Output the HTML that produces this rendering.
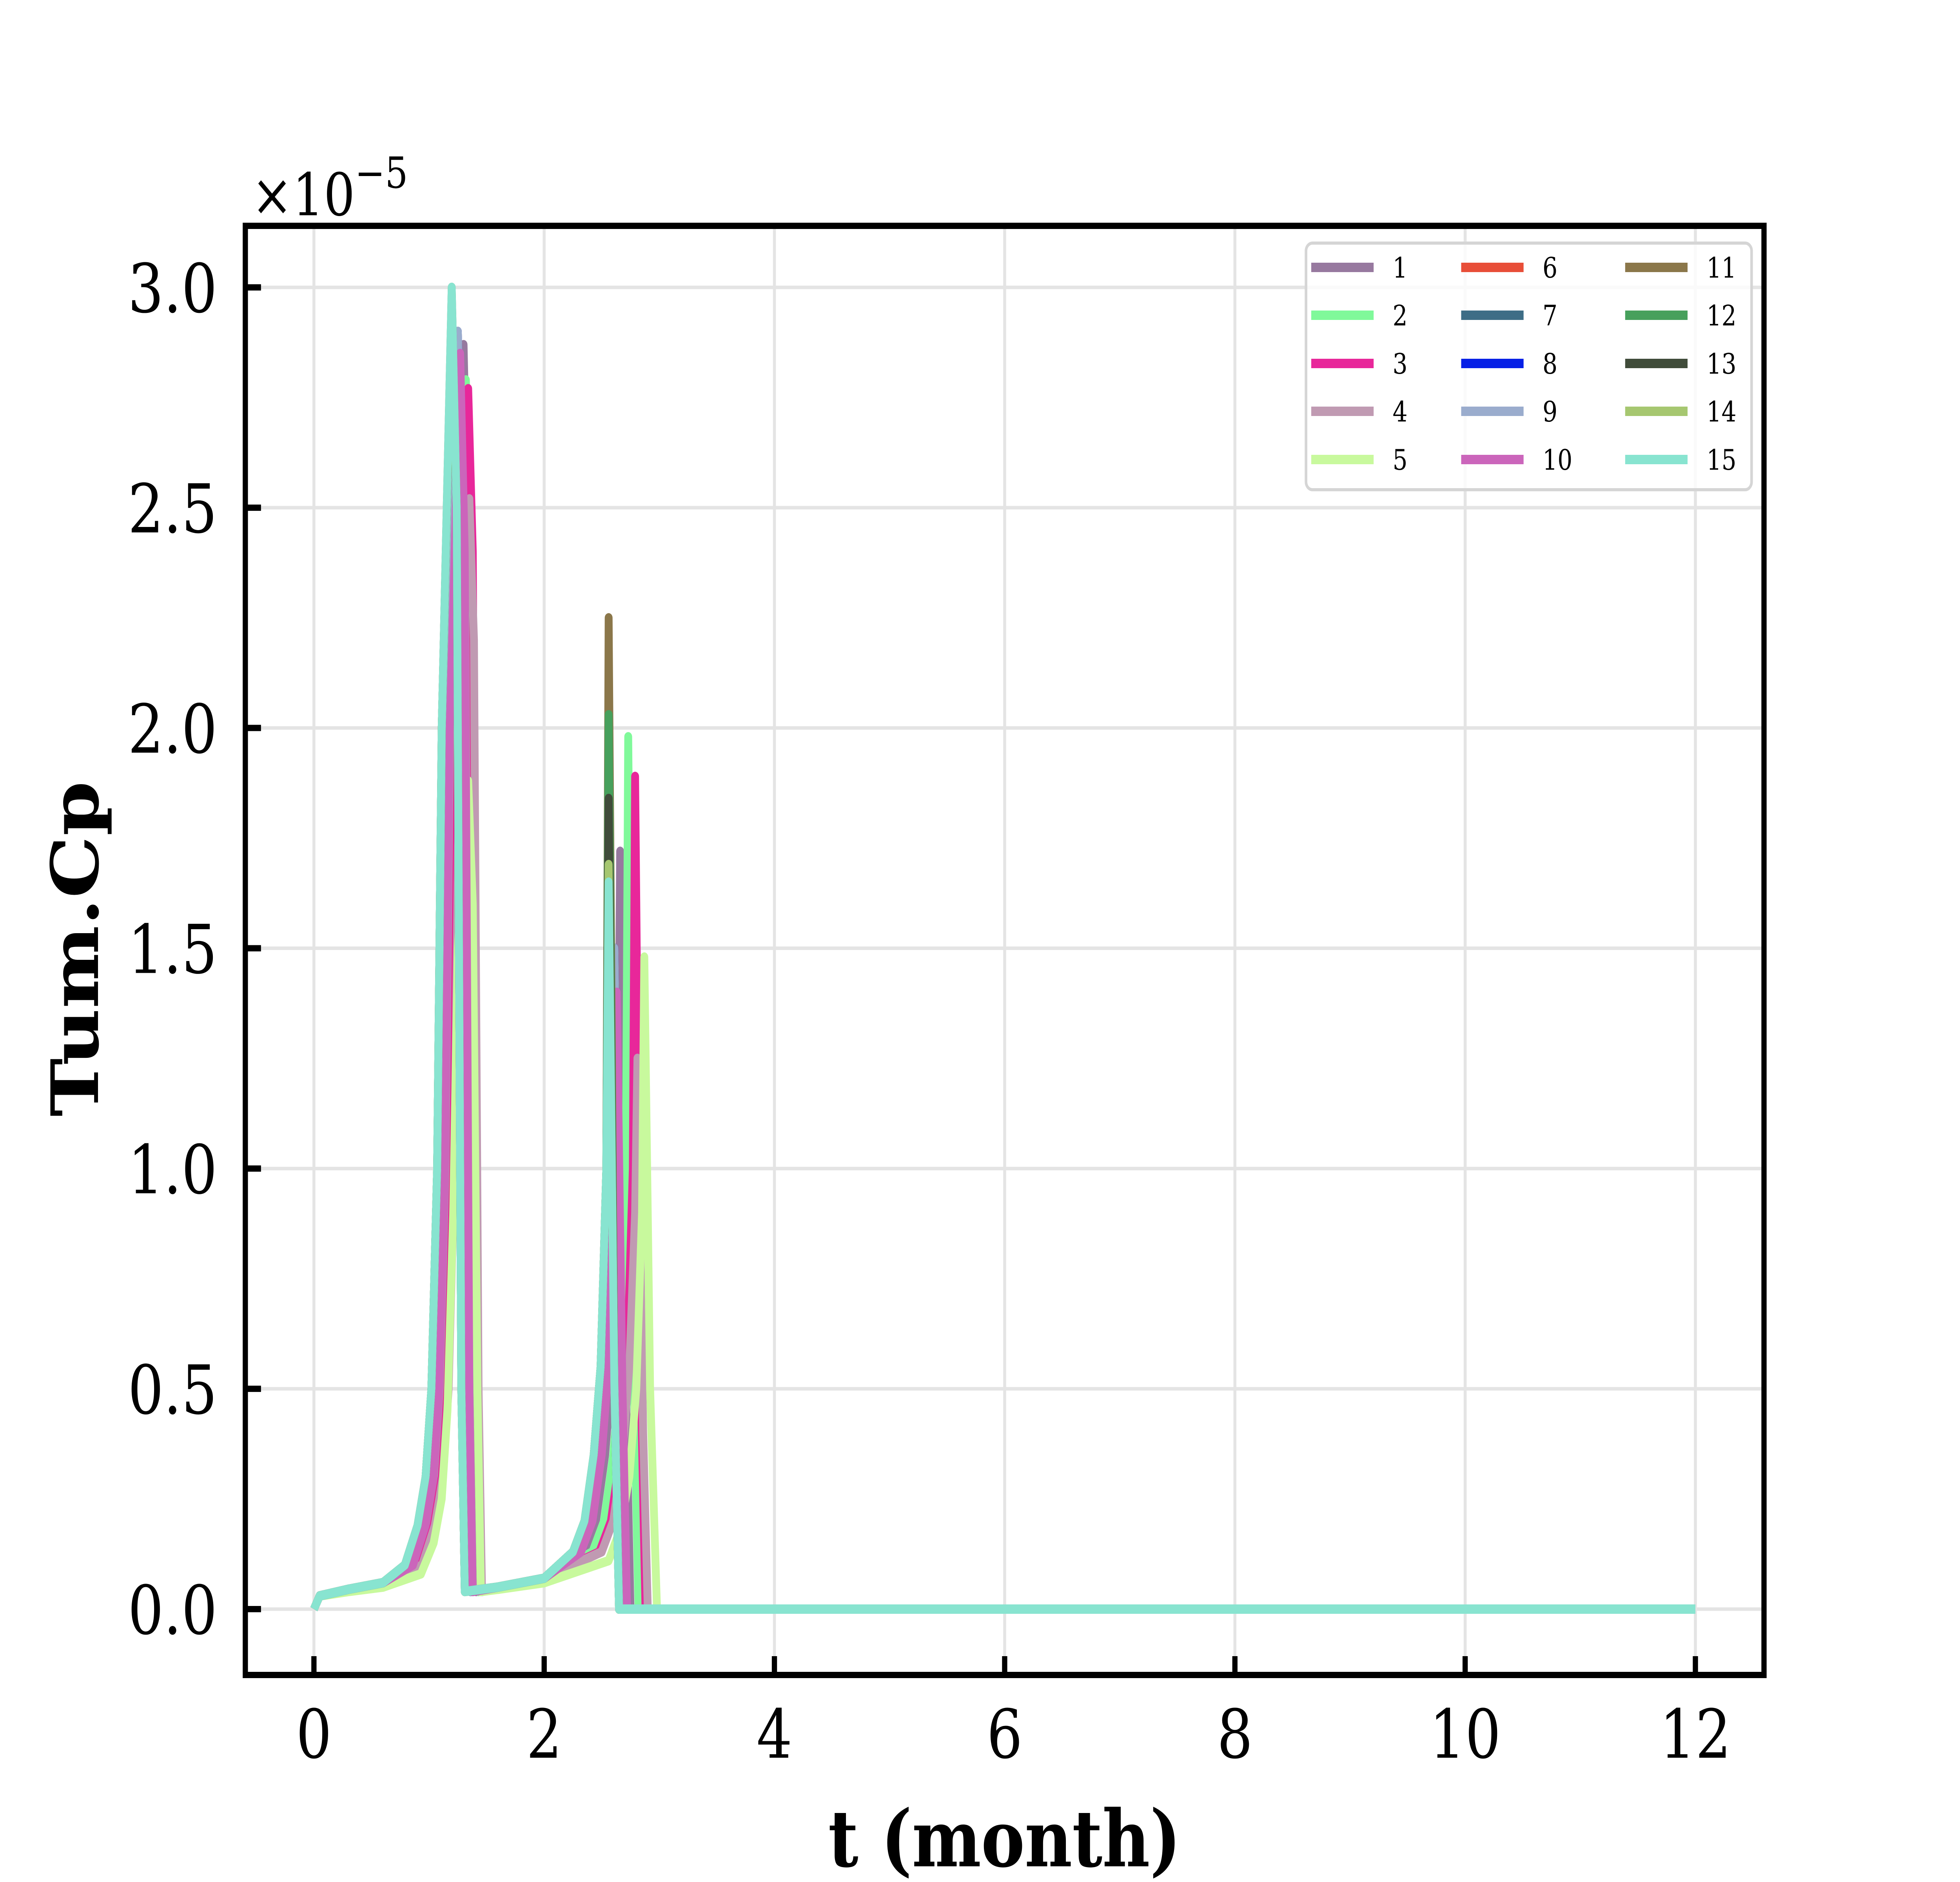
<!DOCTYPE html>
<html><head><meta charset="utf-8"><style>
html,body{margin:0;padding:0;background:#fff;width:100%;height:100%;overflow:hidden;}
svg{display:block;width:100vw;height:100vh;}
text{font-family:"DejaVu Serif","Liberation Serif",serif;}
</style></head><body>
<svg id="chart" xmlns="http://www.w3.org/2000/svg" viewBox="0 0 6000 4800" preserveAspectRatio="none">
<rect x="0" y="0" width="6000" height="4800" fill="#fff"/>
<g id="grid"></g>
<g id="series"></g>
<g id="axes"></g>
<g id="legend"></g>
</svg>
<script>
const xTicks = [0, 2, 4, 6, 8, 10, 12];
const yTicks = [0, 0.5, 1.0, 1.5, 2.0, 2.5, 3.0];
const yTickLabels = ["0.0", "0.5", "1.0", "1.5", "2.0", "2.5", "3.0"];
const seriesNames = ["1","2","3","4","5","6","7","8","9","10","11","12","13","14","15"];
const seriesColors = ["#97799f","#80f99a","#e8279a","#c09ab2","#c8f99d","#e84e38","#3e6d86","#0720e6","#9aaccd","#cb65bb","#8b774a","#47a05c","#404c3a","#a6c770","#88e4d0"];
const t1 = [0,0.05,0.3,0.6,0.89,1.0,1.07,1.12,1.17,1.21,1.30,1.34,1.38,1.41,1.6,2.0,2.35,2.45,2.53,2.59,2.64,2.66,2.71,2.75,12];
const y1 = [0,0.03,0.045,0.06,0.1,0.19,0.3,0.5,1.0,2.0,2.87,2.4,0.5,0.04,0.05,0.07,0.13,0.2,0.35,0.55,1.0,1.72,0.5,0,0];
const t2 = [0,0.05,0.3,0.6,0.91,1.02,1.09,1.14,1.19,1.23,1.32,1.36,1.40,1.43,1.6,2.0,2.42,2.52,2.6,2.66,2.71,2.73,2.78,2.82,12];
const y2 = [0,0.03,0.045,0.06,0.1,0.19,0.3,0.5,1.0,2.0,2.79,2.4,0.5,0.04,0.05,0.07,0.13,0.2,0.35,0.55,1.0,1.98,0.5,0,0];
const t3 = [0,0.05,0.3,0.6,0.93,1.04,1.11,1.16,1.21,1.25,1.34,1.38,1.42,1.45,1.6,2.0,2.48,2.58,2.66,2.72,2.77,2.79,2.84,2.88,12];
const y3 = [0,0.03,0.045,0.06,0.1,0.19,0.3,0.5,1.0,2.0,2.77,2.4,0.5,0.04,0.05,0.07,0.13,0.2,0.35,0.55,1.0,1.89,0.5,0,0];
const t4 = [0,0.05,0.3,0.6,0.94,1.05,1.12,1.17,1.22,1.26,1.35,1.39,1.43,1.46,1.6,2.0,2.5,2.6,2.68,2.74,2.79,2.81,2.86,2.9,12];
const y4 = [0,0.03,0.045,0.06,0.1,0.19,0.3,0.5,1.0,1.9,2.52,2.2,0.5,0.04,0.05,0.07,0.13,0.2,0.35,0.55,0.9,1.25,0.4,0,0];
const t5 = [0,0.05,0.3,0.6,0.93,1.04,1.11,1.16,1.21,1.25,1.34,1.38,1.42,1.45,1.6,2.0,2.56,2.66,2.74,2.8,2.85,2.87,2.92,2.98,12];
const y5 = [0,0.03,0.04,0.05,0.08,0.15,0.25,0.45,0.9,1.5,1.88,1.6,0.5,0.04,0.045,0.06,0.11,0.18,0.3,0.5,0.9,1.48,0.5,0,0];
const t6 = [0,0.05,0.3,0.6,0.84,0.95,1.02,1.07,1.12,1.16,1.25,1.29,1.33,1.36,1.6,2.0,2.3,2.4,2.48,2.54,2.59,2.61,2.66,2.7,12];
const y6 = [0,0.03,0.045,0.06,0.1,0.19,0.3,0.5,1.0,2.0,2.9,2.4,0.5,0.04,0.05,0.07,0.13,0.2,0.35,0.55,1.0,1.5,0.5,0,0];
const t7 = [0,0.05,0.3,0.6,0.84,0.95,1.02,1.07,1.12,1.16,1.25,1.29,1.33,1.36,1.6,2.0,2.3,2.4,2.48,2.54,2.59,2.61,2.66,2.7,12];
const y7 = [0,0.03,0.045,0.06,0.1,0.19,0.3,0.5,1.0,2.0,2.9,2.4,0.5,0.04,0.05,0.07,0.13,0.2,0.35,0.55,1.0,1.5,0.5,0,0];
const t8 = [0,0.05,0.3,0.6,0.84,0.95,1.02,1.07,1.12,1.16,1.25,1.29,1.33,1.36,1.6,2.0,2.3,2.4,2.48,2.54,2.59,2.61,2.66,2.7,12];
const y8 = [0,0.03,0.045,0.06,0.1,0.19,0.3,0.5,1.0,2.0,2.9,2.4,0.5,0.04,0.05,0.07,0.13,0.2,0.35,0.55,1.0,1.5,0.5,0,0];
const t9 = [0,0.05,0.3,0.6,0.84,0.95,1.02,1.07,1.12,1.16,1.25,1.29,1.33,1.36,1.6,2.0,2.3,2.4,2.48,2.54,2.59,2.61,2.66,2.7,12];
const y9 = [0,0.03,0.045,0.06,0.1,0.19,0.3,0.5,1.0,2.0,2.9,2.4,0.5,0.04,0.05,0.07,0.13,0.2,0.35,0.55,1.0,1.5,0.5,0,0];
const t10 = [0,0.05,0.3,0.6,0.86,0.97,1.04,1.09,1.14,1.18,1.27,1.31,1.35,1.38,1.6,2.0,2.32,2.42,2.5,2.56,2.61,2.63,2.68,2.72,12];
const y10 = [0,0.03,0.045,0.06,0.1,0.19,0.3,0.5,1.0,2.0,2.85,2.4,0.5,0.04,0.05,0.07,0.13,0.2,0.35,0.55,1.0,1.4,0.5,0,0];
const t11 = [0,0.05,0.3,0.6,0.79,0.9,0.97,1.02,1.07,1.11,1.197,1.24,1.28,1.31,1.6,2.0,2.25,2.35,2.43,2.49,2.54,2.56,2.61,2.65,12];
const y11 = [0,0.03,0.045,0.06,0.1,0.19,0.3,0.5,1.0,2.0,3.0,2.5,0.5,0.04,0.05,0.07,0.13,0.2,0.35,0.55,1.0,2.25,0.5,0,0];
const t12 = [0,0.05,0.3,0.6,0.79,0.9,0.97,1.02,1.07,1.11,1.197,1.24,1.28,1.31,1.6,2.0,2.25,2.35,2.43,2.49,2.54,2.56,2.61,2.65,12];
const y12 = [0,0.03,0.045,0.06,0.1,0.19,0.3,0.5,1.0,2.0,2.98,2.5,0.5,0.04,0.05,0.07,0.13,0.2,0.35,0.55,1.0,2.03,0.5,0,0];
const t13 = [0,0.05,0.3,0.6,0.79,0.9,0.97,1.02,1.07,1.11,1.197,1.24,1.28,1.31,1.6,2.0,2.25,2.35,2.43,2.49,2.54,2.56,2.61,2.65,12];
const y13 = [0,0.03,0.045,0.06,0.1,0.19,0.3,0.5,1.0,2.0,2.98,2.5,0.5,0.04,0.05,0.07,0.13,0.2,0.35,0.55,1.0,1.84,0.5,0,0];
const t14 = [0,0.05,0.3,0.6,0.79,0.9,0.97,1.02,1.07,1.11,1.197,1.24,1.28,1.31,1.6,2.0,2.25,2.35,2.43,2.49,2.54,2.56,2.61,2.65,12];
const y14 = [0,0.03,0.045,0.06,0.1,0.19,0.3,0.5,1.0,2.0,2.98,2.5,0.5,0.04,0.05,0.07,0.13,0.2,0.35,0.55,1.0,1.69,0.5,0,0];
const t15 = [0,0.05,0.3,0.6,0.79,0.9,0.97,1.02,1.07,1.11,1.197,1.24,1.28,1.31,1.6,2.0,2.25,2.35,2.43,2.49,2.54,2.56,2.61,2.65,12];
const y15 = [0,0.03,0.045,0.06,0.1,0.19,0.3,0.5,1.0,2.0,3.0,2.5,0.5,0.04,0.05,0.07,0.13,0.2,0.35,0.55,1.0,1.65,0.5,0,0];
const seriesT = [t1,t2,t3,t4,t5,t6,t7,t8,t9,t10,t11,t12,t13,t14,t15];
const seriesY = [y1,y2,y3,y4,y5,y6,y7,y8,y9,y10,y11,y12,y13,y14,y15];

const NS = "http://www.w3.org/2000/svg";
const L = 751, R = 5400, T = 576, B = 4272;
function xs(t){ return 961 + t * (5190 - 961) / 12; }
function ys(v){ return 4104 - v * (4104 - 733) / 3; }
function mk(tag, attrs, parent){
  const e = document.createElementNS(NS, tag);
  for (const k in attrs) e.setAttribute(k, attrs[k]);
  parent.appendChild(e); return e;
}
const grid = document.getElementById('grid');
xTicks.forEach(t => {
  const l = mk('line', {x1: xs(t), x2: xs(t), y1: T, y2: B, stroke: '#e4e4e4', 'stroke-width': 9}, grid);
  
  
});
yTicks.forEach(v => {
  const l = mk('line', {x1: L, x2: R, y1: ys(v), y2: ys(v), stroke: '#e4e4e4', 'stroke-width': 9}, grid);
  
  
});
const sg = document.getElementById('series');
seriesT.forEach((ts, i) => {
  const ysv = seriesY[i];
  const pts = ts.map((t, j) => xs(t).toFixed(1) + ',' + ys(ysv[j]).toFixed(1)).join(' ');
  const p = mk('polyline', {points: pts, fill: 'none', stroke: seriesColors[i], 'stroke-width': 24, 'stroke-linejoin': 'round', 'stroke-linecap': 'butt'}, sg);
  
  
});
const ax = document.getElementById('axes');
const frame = mk('rect', {x: L, y: T, width: R - L, height: B - T, fill: 'none', stroke: '#000', 'stroke-width': 16}, ax);


xTicks.forEach(t => {
  const tk = mk('line', {x1: xs(t), x2: xs(t), y1: B, y2: B - 48, stroke: '#000', 'stroke-width': 16}, ax);
  
  
  const tx = mk('text', {x: xs(t), y: 4483, 'font-size': 172, 'text-anchor': 'middle', fill: '#000'}, ax);
  tx.textContent = String(t);
  
  
});
yTicks.forEach((v, i) => {
  const tk = mk('line', {x1: L, x2: L + 48, y1: ys(v), y2: ys(v), stroke: '#000', 'stroke-width': 16}, ax);
  
  
  const tx = mk('text', {x: 665, y: ys(v) + 63, 'font-size': 172, 'text-anchor': 'end', fill: '#000'}, ax);
  tx.textContent = yTickLabels[i];
  
  
});
const off = mk('text', {x: 770, y: 549, 'font-size': 150, fill: '#000'}, ax);
off.innerHTML = '×10<tspan dy="-70" font-size="110">−5</tspan>';


const xl = mk('text', {x: 3075, y: 4760, 'font-size': 200, 'font-weight': 'bold', 'text-anchor': 'middle', fill: '#000'}, ax);
xl.textContent = 't (month)';


const yl = mk('text', {x: 0, y: 0, 'font-size': 200, 'font-weight': 'bold', 'text-anchor': 'middle', fill: '#000', transform: 'translate(300,2420) rotate(-90)'}, ax);
yl.textContent = 'Tum.Cp';



const lg = document.getElementById('legend');
const box = mk('rect', {x: 3998, y: 620, width: 1364, height: 629, rx: 20, fill: '#fff', 'fill-opacity': 0.8, stroke: '#d5d5d5', 'stroke-width': 8}, lg);


const colLine = [4014, 4473, 4975];
const colText = [4263, 4722, 5224];
const rowY = [682, 804, 927, 1049, 1172];
seriesNames.forEach((n, i) => {
  const c = Math.floor(i / 5), r = i % 5;
  const g = mk('g', {}, lg);
  
  
  mk('line', {x1: colLine[c], x2: colLine[c] + 191, y1: rowY[r], y2: rowY[r], stroke: seriesColors[i], 'stroke-width': 24}, g);
  const tx = mk('text', {x: colText[c], y: rowY[r] + 26, 'font-size': 72, fill: '#000'}, g);
  tx.textContent = n;
});
</script>
</body></html>
